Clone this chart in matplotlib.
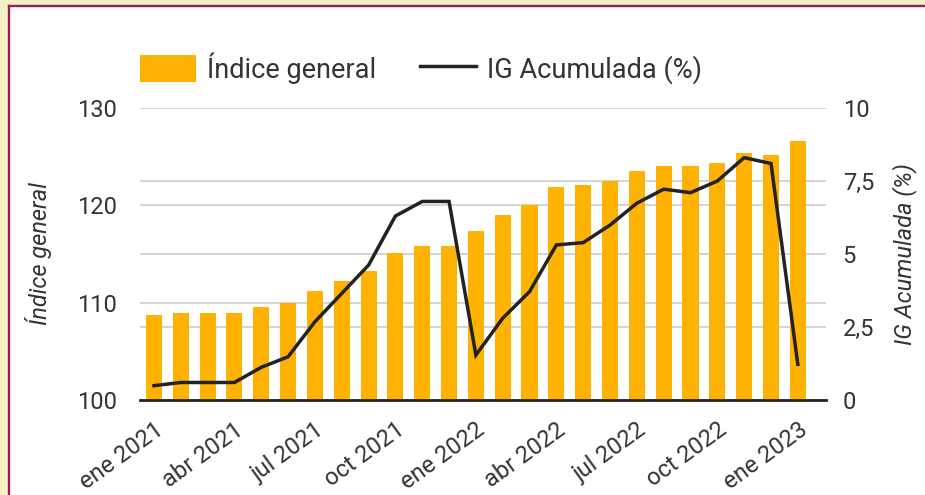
import matplotlib
matplotlib.use("Agg")
import matplotlib.pyplot as plt
from matplotlib.patches import Rectangle
from matplotlib.lines import Line2D
from matplotlib.patches import Patch

plt.rcParams['font.family'] = ['Roboto', 'DejaVu Sans']

months = ["ene 2021", "feb 2021", "mar 2021", "abr 2021", "may 2021", "jun 2021",
          "jul 2021", "ago 2021", "sep 2021", "oct 2021", "nov 2021", "dic 2021",
          "ene 2022", "feb 2022", "mar 2022", "abr 2022", "may 2022", "jun 2022",
          "jul 2022", "ago 2022", "sep 2022", "oct 2022", "nov 2022", "dic 2022",
          "ene 2023"]
indice_general = [108.7, 108.9, 108.9, 108.9, 109.6, 110.0, 111.2, 112.2, 113.3,
                  115.1, 115.8, 115.8, 117.4, 119.0, 120.0, 121.9, 122.1, 122.5,
                  123.5, 124.0, 124.0, 124.4, 125.4, 125.2, 126.6]
ig_acumulada = [0.49, 0.6, 0.6, 0.6, 1.12, 1.48, 2.68, 3.65, 4.62, 6.3, 6.8, 6.8,
                1.54, 2.8, 3.71, 5.31, 5.39, 5.99, 6.74, 7.22, 7.1, 7.5, 8.3, 8.1, 1.22]
left_ticks = [100, 110, 120, 130]
right_ticks = [0, 2.5, 5, 7.5, 10]
right_tick_labels = ["0", "2,5", "5", "7,5", "10"]
label_months = months[::3]

BAR = '#FFB300'
LINE = '#222222'
TXT = '#333333'
GRID = '#D0D0D0'
BORDER = '#9C1B5C'

W, H = 925, 495
fig = plt.figure(figsize=(W / 100, H / 100), dpi=100)
fig.patch.set_facecolor('#F1F3C4')
fig.add_artist(Rectangle((9 / W, 0), 1, 1 - 6 / H, transform=fig.transFigure,
                         facecolor='white', edgecolor='none', zorder=0))
fig.add_artist(Line2D([9 / W, 1], [1 - 6 / H, 1 - 6 / H], transform=fig.transFigure,
                      color=BORDER, linewidth=1.7, zorder=1))
fig.add_artist(Line2D([9 / W, 9 / W], [0, 1 - 6 / H], transform=fig.transFigure,
                      color=BORDER, linewidth=1.7, zorder=1))

ax = fig.add_axes([140 / W, 1 - 400 / H, (826 - 140) / W, (400 - 108) / H])
ax.set_facecolor('none')
x = list(range(len(months)))
ax.bar(x, [v - 100 for v in indice_general], bottom=100, width=0.6, color=BAR, zorder=2)
ax.set_ylim(100, 130)
ax.set_xlim(-0.52, 25.05)
ax.set_yticks(left_ticks)
ax.set_yticks([100 + t * 3 for t in right_ticks if (100 + t * 3) not in left_ticks], minor=True)
ax.grid(True, which='both', axis='y', color=GRID, linewidth=1.3, zorder=0)
ax.set_axisbelow(True)
ax.tick_params(axis='y', which='both', length=0, labelsize=17, labelcolor=TXT, pad=16.5)
ax.set_xticks(x[::3])
ax.set_xticklabels(label_months, rotation=36, ha='right', va='top', rotation_mode='anchor')
ax.tick_params(axis='x', length=0, labelsize=17, labelcolor=TXT, pad=13)
for s in ['top', 'right', 'left']:
    ax.spines[s].set_visible(False)
ax.spines['bottom'].set_color(LINE)
ax.spines['bottom'].set_linewidth(2)
ax.spines['bottom'].set_zorder(5)
ax.set_ylabel('Índice general', fontsize=17, style='italic', color=TXT)
ax.yaxis.set_label_coords((52 - 140) / 686, 0.5)

ax2 = ax.twinx()
ax2.plot(x, ig_acumulada, color=LINE, linewidth=2.5, zorder=4, solid_joinstyle='miter')
ax2.set_ylim(0, 10)
ax2.set_yticks(right_ticks)
ax2.set_yticklabels(right_tick_labels)
ax2.tick_params(axis='y', length=0, labelsize=17, labelcolor=TXT, pad=12)
for s in ['top', 'right', 'left', 'bottom']:
    ax2.spines[s].set_visible(False)
ax2.set_ylabel('IG Acumulada (%)', fontsize=17, style='italic', color=TXT)
ax2.yaxis.set_label_coords((892 - 140) / 686, 0.5)

handles = [Patch(facecolor=BAR, edgecolor='none'), Line2D([0], [0], color=LINE, linewidth=2.5)]
fig.legend(handles, ['Índice general', 'IG Acumulada (%)'], loc='center left',
           bbox_to_anchor=(140 / W, 1 - 68 / H), ncol=2, frameon=False, fontsize=19.5,
           handlelength=2.07, handleheight=1.17, handletextpad=0.42, columnspacing=1.6,
           borderpad=0, borderaxespad=0, labelcolor=TXT)

fig.savefig('out.png', dpi=100, facecolor=fig.get_facecolor())
